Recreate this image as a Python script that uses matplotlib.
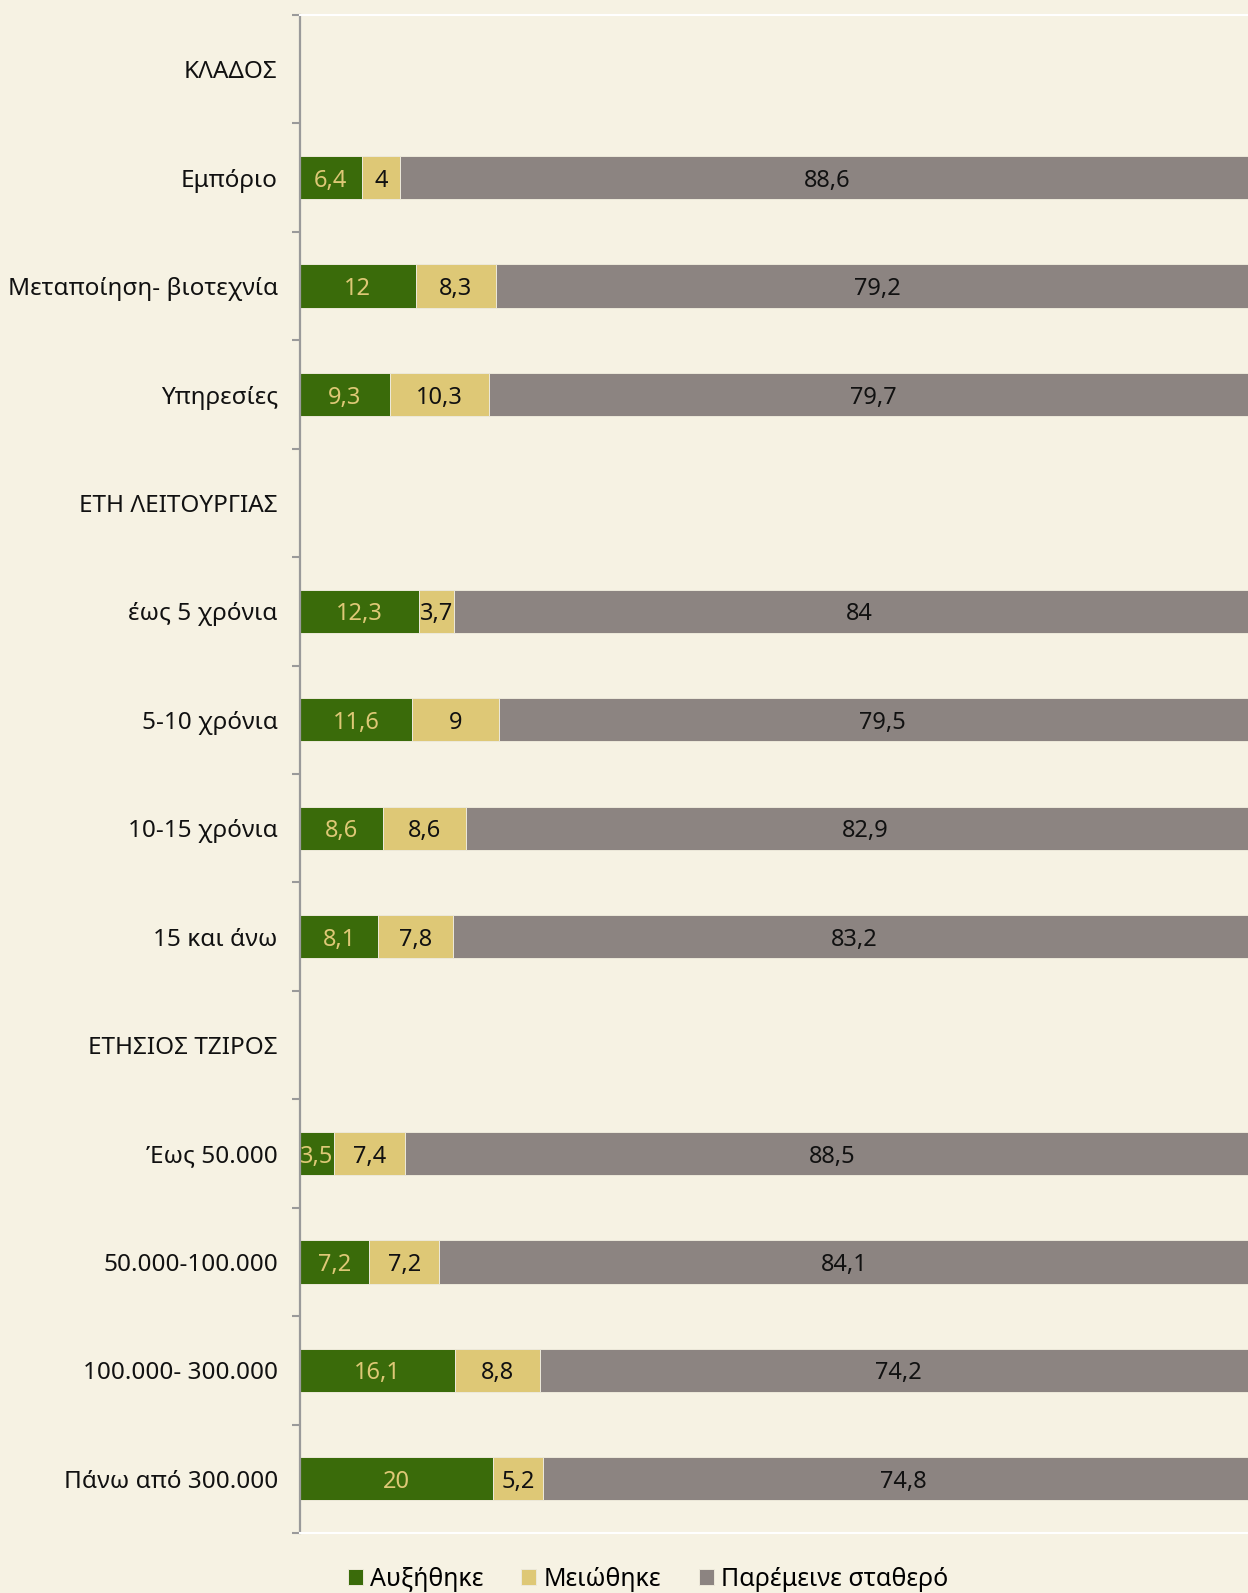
import matplotlib.pyplot as plt
import numpy as np

plt.rcParams['font.family'] = ['Noto Sans', 'DejaVu Sans']

categories = ['ΚΛΑΔΟΣ', 'Εμπόριο', 'Μεταποίηση- βιοτεχνία', 'Υπηρεσίες',
              'ΕΤΗ ΛΕΙΤΟΥΡΓΙΑΣ', 'έως 5 χρόνια', '5-10 χρόνια', '10-15 χρόνια',
              '15 και άνω', 'ΕΤΗΣΙΟΣ ΤΖΙΡΟΣ', 'Έως 50.000', '50.000-100.000',
              '100.000- 300.000', 'Πάνω από 300.000']
nan = np.nan
increased = [nan, 6.4, 12, 9.3, nan, 12.3, 11.6, 8.6, 8.1, nan, 3.5, 7.2, 16.1, 20]
decreased = [nan, 4, 8.3, 10.3, nan, 3.7, 9, 8.6, 7.8, nan, 7.4, 7.2, 8.8, 5.2]
stable = [nan, 88.6, 79.2, 79.7, nan, 84, 79.5, 82.9, 83.2, nan, 88.5, 84.1, 74.2, 74.8]
series_names = ['Αυξήθηκε', 'Μειώθηκε', 'Παρέμεινε σταθερό']

bg = '#F6F2E3'
colors = ['#3A6B0A', '#DEC876', '#8C8481']
label_colors = ['#DEC876', '#111111', '#111111']

fig = plt.figure(figsize=(12.48, 15.93), dpi=100, facecolor=bg)
ax = fig.add_axes([300 / 1248, 1 - 1533 / 1593, 948 / 1248, 1518 / 1593])
ax.set_facecolor(bg)

y = np.arange(len(categories))
left = np.zeros(len(categories))
for vals, col, lcol, name in zip([increased, decreased, stable], colors, label_colors, series_names):
    vals = np.array(vals, dtype=float)
    ax.barh(y, np.nan_to_num(vals), left=left, height=0.4, color=col,
            edgecolor='#EDE9DA', linewidth=0.7, label=name)
    for yi, v, l in zip(y, vals, left):
        if np.isnan(v):
            continue
        txt = ('%g' % v).replace('.', ',')
        ax.text(l + v / 2, yi, txt, ha='center', va='center_baseline',
                color=lcol, fontsize=17)
    left = left + np.nan_to_num(vals)

ax.set_xlim(0, 98.3)
ax.set_ylim(len(categories) - 0.5, -0.5)
ax.set_yticks(y)
ax.set_yticklabels(categories, fontsize=17.5, color='#111111')
ax.set_yticks(np.arange(-0.5, len(categories)), minor=True)
ax.tick_params(axis='y', which='major', length=0, pad=16)
ax.tick_params(axis='y', which='minor', length=6, width=1.5, color='#9A9A9A')
ax.set_xticks([])

ax.spines['left'].set_color('#9A9A9A')
ax.spines['left'].set_linewidth(1.6)
ax.spines['right'].set_visible(False)
ax.spines['top'].set_color('white')
ax.spines['bottom'].set_color('white')
ax.spines['top'].set_linewidth(1.5)
ax.spines['bottom'].set_linewidth(1.5)

fig.legend(loc='center', bbox_to_anchor=(648 / 1248, 1 - 1579 / 1593), ncol=3,
           frameon=False, fontsize=18, handlelength=0.6, handleheight=0.6,
           handletextpad=0.3, columnspacing=1.5)

fig.savefig('out.png', dpi=100, facecolor=bg)
